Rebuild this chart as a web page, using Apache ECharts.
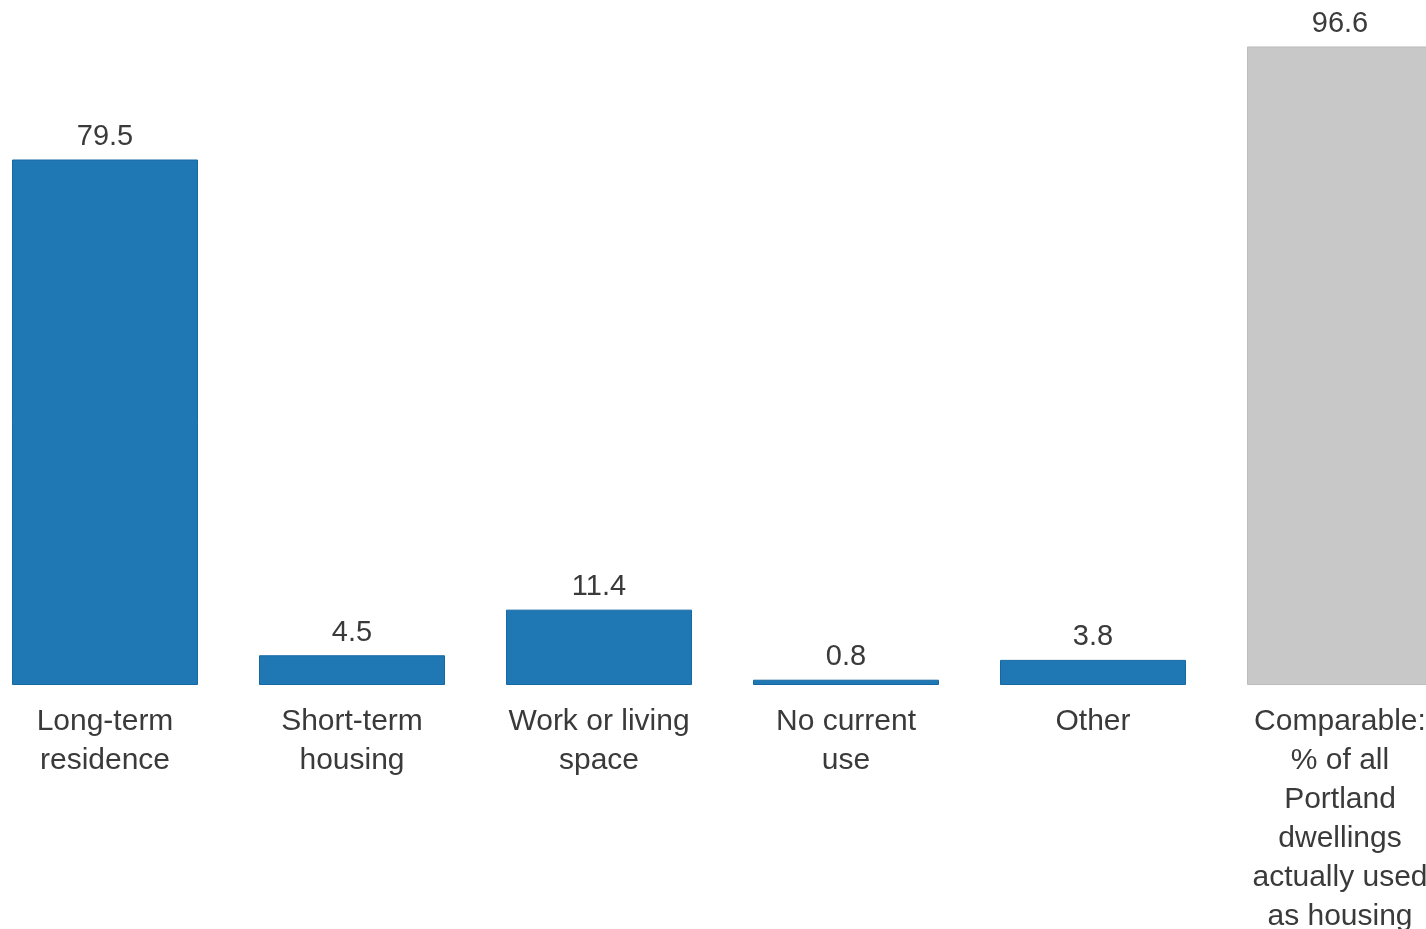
<!DOCTYPE html>
<html>
<head>
<meta charset="utf-8">
<script src="https://cdn.jsdelivr.net/npm/echarts@6/dist/echarts.min.js"></script>
<style>
html, body { margin: 0; padding: 0; background: #fff; overflow: hidden; }
#chartmain { width: 1426px; height: 929px; }
</style>
</head>
<body>
<div id="chartmain"></div>
<script>
var categories = ['Long-term\nresidence', 'Short-term\nhousing', 'Work or living\nspace',
	'No current\nuse', 'Other', 'Comparable:\n% of all\nPortland\ndwellings\nactually used\nas housing'];
var values = [79.5, 4.5, 11.4, 0.8, 3.8, 96.6];
var comparableIndex = 5;

var barData = [];
for (var i = 0; i < values.length; i++) {
	var grey = (i === comparableIndex);
	barData.push({
		value : values[i],
		itemStyle : {
			color : grey ? '#c8c8c8' : '#1f77b4',
			borderColor : grey ? '#bcbcbc' : '#1668a4',
			borderWidth : 1
		}
	});
}

var option = {
	animation : false,
	grid : {
		left : -18.5,
		right : -37.5,
		top : 24,
		bottom : 244,
		outerBoundsMode : 'none'
	},
	xAxis : {
		type : 'category',
		data : categories,
		axisLine : { show : false },
		axisTick : { show : false },
		axisLabel : {
			interval : 0,
			margin : 17,
			fontFamily : 'Liberation Sans',
			fontSize : 30,
			lineHeight : 39,
			color : '#3a3a3a'
		}
	},
	yAxis : {
		type : 'value',
		min : 0,
		max : 100,
		show : false,
		splitLine : { show : false }
	},
	series : [ {
		type : 'bar',
		data : barData,
		barWidth : 186,
		label : {
			show : true,
			position : 'top',
			distance : 8,
			fontFamily : 'Liberation Sans',
			fontSize : 29,
			color : '#3a3a3a',
			formatter : function(p) {
				return p.value.toFixed(1);
			}
		}
	} ]
};

// 初始化echarts实例
var myChart = echarts.init(document.getElementById('chartmain'));
myChart.setOption(option);
</script>
</body>
</html>
